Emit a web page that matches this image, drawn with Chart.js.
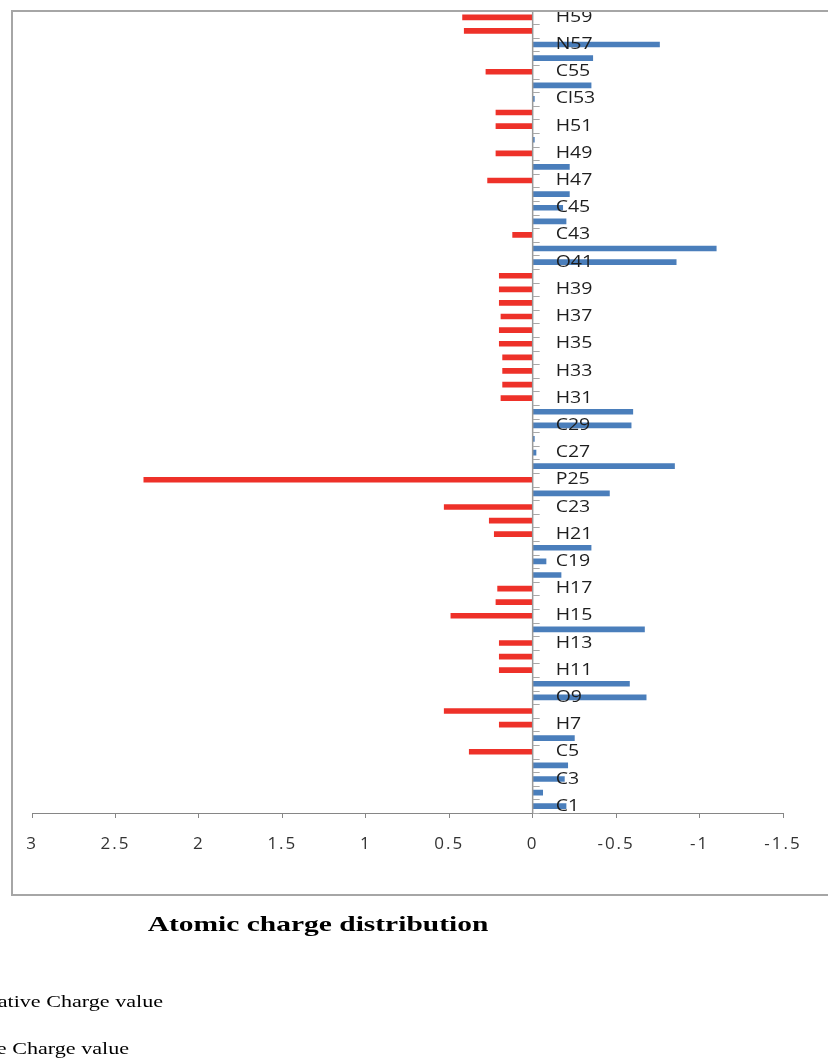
<!DOCTYPE html>
<html>
<head>
<meta charset="utf-8">
<script src="https://cdn.jsdelivr.net/npm/chart.js@4.4.0/dist/chart.umd.min.js"></script>
<style>
  html, body { margin: 0; padding: 0; background: #ffffff; }
  canvas { display: block; }
</style>
</head>
<body>
<canvas id="c" width="828" height="1061"></canvas>
<script>
// ---- DATA ----
const categories = [
  "C1","","C3","","C5","","H7","","O9","",
  "H11","","H13","","H15","","H17","","C19","",
  "H21","","C23","","P25","","C27","","C29","",
  "H31","","H33","","H35","","H37","","H39","",
  "O41","","C43","","C45","","H47","","H49","",
  "H51","","Cl53","","C55","","N57","","H59"
];
// negative charges (blue bars)
const negativeValues = [
  -0.20,-0.06,-0.19,-0.21,null,-0.25,null,null,-0.68,-0.58,
  null,null,null,-0.67,null,null,null,-0.17,-0.08,-0.35,
  null,null,null,-0.46,null,-0.85,-0.02,-0.01,-0.59,-0.60,
  null,null,null,null,null,null,null,null,null,null,
  -0.86,-1.10,null,-0.20,-0.18,-0.22,null,-0.22,null,-0.01,
  null,null,-0.01,-0.35,null,-0.36,-0.76,null,null
];
// positive charges (red bars)
const positiveValues = [
  null,null,null,null,0.38,null,0.20,0.53,null,null,
  0.20,0.20,0.20,null,0.49,0.22,0.21,null,null,null,
  0.23,0.26,0.53,null,2.33,null,null,null,null,null,
  0.19,0.18,0.18,0.18,0.20,0.20,0.19,0.20,0.20,0.20,
  null,null,0.12,null,null,null,0.27,null,0.22,null,
  0.22,0.22,null,null,0.28,null,null,0.41,0.42
];
const xTickValues = [3, 2.5, 2, 1.5, 1, 0.5, 0, -0.5, -1, -1.5];
const xTickLabels = ["3","2.5","2","1.5","1","0.5","0","-0.5","-1","-1.5"];
const seriesNames = ["Negative Charge value", "Positive Charge value"];
const chartTitle = "Atomic charge distribution";

// ---- helpers ----
function drawText(ctx, text, x, y, sx, align) {
  ctx.save();
  ctx.translate(x, y);
  ctx.scale(sx, 1);
  ctx.textAlign = align;
  ctx.textBaseline = 'middle';
  ctx.fillText(text, 0, 0);
  ctx.restore();
}

const decor = {
  id: 'decor',
  beforeDraw(chart) {
    chart.ctx.letterSpacing = '2px';
  },
  beforeDatasetsDraw(chart) {
    chart.ctx.letterSpacing = '0px';
  },
  afterDatasetsDraw(chart) {
    const { ctx, chartArea, scales: { x, y } } = chart;
    const x0 = x.getPixelForValue(0);
    ctx.save();
    // zero (category) axis line
    ctx.strokeStyle = '#9a9a9a';
    ctx.lineWidth = 1.5;
    ctx.beginPath();
    ctx.moveTo(x0, chartArea.top);
    ctx.lineTo(x0, chartArea.bottom);
    ctx.stroke();
    // category tick marks at boundaries
    const n = categories.length;
    const half = Math.abs(y.getPixelForValue(1) - y.getPixelForValue(0)) / 2;
    ctx.strokeStyle = '#a8a8a8';
    ctx.lineWidth = 1;
    ctx.beginPath();
    for (let i = 0; i < n; i++) {
      const yy = Math.round(y.getPixelForValue(i) + half) + 0.5;
      ctx.moveTo(x0, yy); ctx.lineTo(x0 + 7, yy);
      if (i === n - 1) {
        const yt = Math.round(y.getPixelForValue(i) - half) + 0.5;
        ctx.moveTo(x0, yt); ctx.lineTo(x0 + 7, yt);
      }
    }
    ctx.stroke();
    // category labels
    ctx.fillStyle = '#1e1e1e';
    ctx.font = '16px "Open Sans"';
    for (let i = 0; i < n; i++) {
      if (!categories[i]) continue;
      drawText(ctx, categories[i], x0 + 23, y.getPixelForValue(i), 1.22, 'left');
    }
    ctx.restore();
  },
  afterDraw(chart) {
    const ctx = chart.ctx;
    ctx.save();
    // chart frame
    ctx.strokeStyle = '#a6a6a6';
    ctx.lineWidth = 2;
    ctx.beginPath();
    ctx.moveTo(832, 11);
    ctx.lineTo(12, 11);
    ctx.lineTo(12, 895);
    ctx.lineTo(832, 895);
    ctx.stroke();
    // title
    ctx.fillStyle = '#000000';
    ctx.font = 'bold 22px "Liberation Serif"';
    drawText(ctx, chartTitle, 318, 925, 1.34, 'center');
    // legend (cropped at the left edge like the reference)
    ctx.font = '17px "Liberation Serif"';
    drawText(ctx, chart.data.datasets[0].label, 163, 1003, 1.3, 'right');
    drawText(ctx, chart.data.datasets[1].label, 129, 1050, 1.3, 'right');
    ctx.restore();
  }
};

new Chart(document.getElementById('c'), {
  type: 'bar',
  data: {
    labels: categories,
    datasets: [
      { label: seriesNames[0], data: negativeValues, backgroundColor: '#4a7ebb', grouped: false, barThickness: 5 },
      { label: seriesNames[1], data: positiveValues, backgroundColor: '#ee3129', grouped: false, barThickness: 5 }
    ]
  },
  options: {
    indexAxis: 'y',
    responsive: false,
    animation: false,
    devicePixelRatio: 1,
    layout: { padding: { left: 32, right: 45, top: 10.5, bottom: 198 } },
    plugins: {
      legend: { display: false },
      tooltip: { enabled: false },
      title: { display: false }
    },
    scales: {
      x: {
        type: 'linear',
        reverse: true,
        min: -1.5,
        max: 3,
        afterBuildTicks: s => { s.ticks = xTickValues.map(v => ({ value: v })); },
        afterFit: s => { s.height = 50; },
        ticks: {
          callback: (v, i) => xTickLabels[i],
          font: { family: 'Open Sans', size: 17 },
          color: '#333333',
          padding: 16,
          maxRotation: 0,
          autoSkip: false
        },
        grid: { drawOnChartArea: false, tickLength: 5, tickColor: '#868686' },
        border: { color: '#868686', width: 1 }
      },
      y: {
        type: 'category',
        reverse: true,
        display: false,
        offset: true
      }
    }
  },
  plugins: [decor]
});
</script>
</body>
</html>
